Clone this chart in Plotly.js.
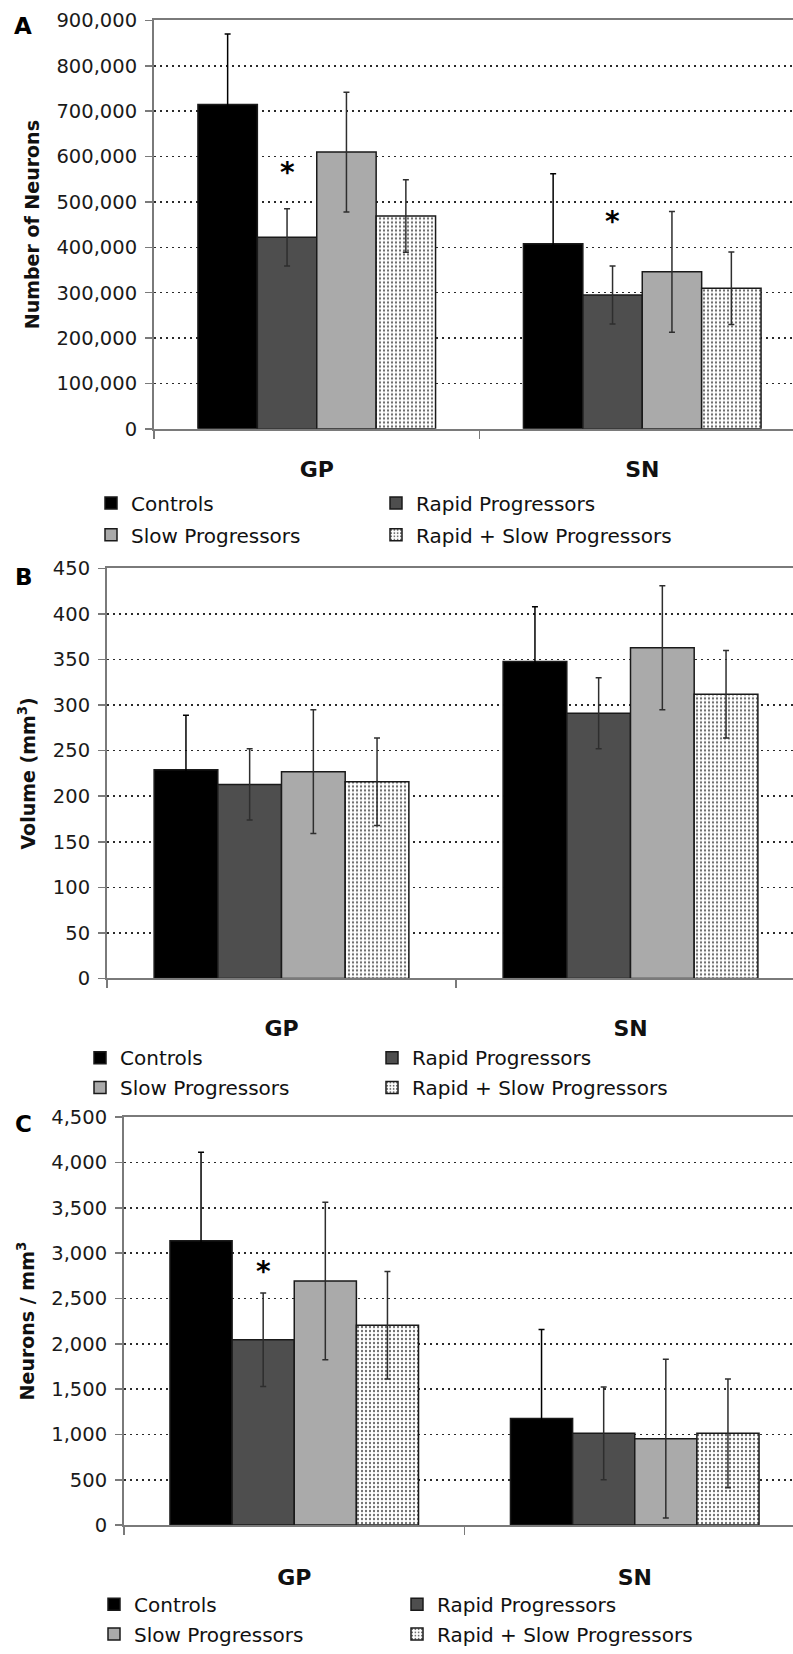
<!DOCTYPE html>
<html><head><meta charset="utf-8">
<script src="https://cdn.plot.ly/plotly-3.0.1.min.js"></script>
<style>html,body{margin:0;padding:0;overflow:hidden;background:#fff}#chart{width:805px;height:1654px}</style>
</head><body><div id="chart"></div>
<script>
const categories = ['GP', 'SN'];
const seriesNames = ['Controls', 'Rapid Progressors', 'Slow Progressors', 'Rapid + Slow Progressors'];

// Panel A: Number of Neurons
const neuronsControls = [715000, 408000];
const neuronsControlsErr = [155000, 154000];
const neuronsRapid = [422000, 295000];
const neuronsRapidErr = [63000, 64000];
const neuronsSlow = [610000, 346000];
const neuronsSlowErr = [132000, 133000];
const neuronsRapidSlow = [469000, 310000];
const neuronsRapidSlowErr = [80000, 80000];

// Panel B: Volume (mm3)
const volumeControls = [229, 348];
const volumeControlsErr = [60, 60];
const volumeRapid = [213, 291];
const volumeRapidErr = [39, 39];
const volumeSlow = [227, 363];
const volumeSlowErr = [68, 68];
const volumeRapidSlow = [216, 312];
const volumeRapidSlowErr = [48, 48];

// Panel C: Neurons / mm3
const densityControls = [3137, 1176];
const densityControlsErr = [975, 982];
const densityRapid = [2045, 1012];
const densityRapidErr = [515, 512];
const densitySlow = [2693, 953];
const densitySlowErr = [868, 875];
const densityRapidSlow = [2205, 1012];
const densityRapidSlowErr = [593, 600];

const W = 805, H = 1654;
const FONT = 'DejaVu Sans';

const seriesStyles = [
  {color: '#000000', err: '#000000'},
  {color: '#4e4e4e', err: '#2e2e2e'},
  {color: '#aaaaaa', err: '#2e2e2e'},
  {color: '#ffffff', err: '#2e2e2e', pattern: {shape: '.', fgcolor: '#666666', bgcolor: '#ffffff', size: 4, solidity: 0.25}}
];

const panels = [
  {xa: 'x', ya: 'y', legends: ['legend', 'legend2'], colWidth: 240,
   data: [[neuronsControls, neuronsControlsErr], [neuronsRapid, neuronsRapidErr], [neuronsSlow, neuronsSlowErr], [neuronsRapidSlow, neuronsRapidSlowErr]]},
  {xa: 'x2', ya: 'y2', legends: ['legend3', 'legend4'], colWidth: 247,
   data: [[volumeControls, volumeControlsErr], [volumeRapid, volumeRapidErr], [volumeSlow, volumeSlowErr], [volumeRapidSlow, volumeRapidSlowErr]]},
  {xa: 'x3', ya: 'y3', legends: ['legend5', 'legend6'], colWidth: 258,
   data: [[densityControls, densityControlsErr], [densityRapid, densityRapidErr], [densitySlow, densitySlowErr], [densityRapidSlow, densityRapidSlowErr]]}
];

const traces = [];
panels.forEach(p => {
  p.data.forEach((d, i) => {
    const st = seriesStyles[i];
    const marker = {color: st.color, line: {color: '#1a1a1a', width: 1.5}};
    if (st.pattern) marker.pattern = st.pattern;
    const tr = {
      type: 'bar', name: seriesNames[i], x: categories, y: d[0],
      xaxis: p.xa, yaxis: p.ya, legend: p.legends[i < 2 ? 0 : 1],
      marker: marker,
      error_y: {type: 'data', array: d[1], visible: true, color: st.err, thickness: 1.5, width: 3},
      hoverinfo: 'skip'
    };
    if (i % 2 === 0) tr.legendwidth = p.colWidth;
    traces.push(tr);
  });
});

function xAxis(l, yid, standoff) {
  return {
    domain: [l / W, 1], anchor: yid, type: 'category',
    showline: true, linecolor: '#7a7a7a', linewidth: 2, mirror: true,
    ticks: 'outside', tickson: 'boundaries', ticklen: 8, tickcolor: '#7a7a7a', tickwidth: 1.5,
    tickfont: {family: FONT, size: 22, color: '#111', weight: 'bold'},
    ticklabelstandoff: standoff, showgrid: false, fixedrange: true
  };
}
function yAxis(top, bottom, xid, range, dtick, title, standoff) {
  return {
    domain: [1 - bottom / H, 1 - top / H], anchor: xid, range: range, dtick: dtick, tick0: 0,
    tickformat: ',d', showgrid: true, gridcolor: '#2a2a2a', gridwidth: 1.5, griddash: '2px,4px',
    zeroline: false, showline: true, linecolor: '#7a7a7a', linewidth: 2, mirror: true,
    ticks: 'outside', ticklen: 7, tickcolor: '#7a7a7a', tickwidth: 1.5,
    tickfont: {family: FONT, size: 19.5, color: '#1a1a1a'}, ticklabelstandoff: 4,
    title: {text: title, font: {family: FONT, size: 19, color: '#111', weight: 'bold'}, standoff: standoff},
    fixedrange: true
  };
}
function legendRow(textX, y) {
  return {
    orientation: 'h', x: (textX - 40) / W, xanchor: 'left', y: 1 - y / H, yanchor: 'middle',
    bgcolor: 'rgba(0,0,0,0)', borderwidth: 0,
    font: {family: FONT, size: 20, color: '#111'}, traceorder: 'normal'
  };
}
function letter(t, x, y) {
  return {text: t, xref: 'paper', yref: 'paper', x: x / W, y: 1 - y / H, xanchor: 'center', yanchor: 'middle',
          showarrow: false, font: {family: FONT, size: 23, color: '#000', weight: 'bold'}};
}
function star(xref, yref, x, y) {
  return {text: '*', xref: xref, yref: yref, x: x, y: y, xanchor: 'center', yanchor: 'middle',
          showarrow: false, font: {family: FONT, size: 28, color: '#000', weight: 'bold'}};
}

const layout = {
  width: W, height: H, margin: {l: 0, r: 0, t: 0, b: 0}, paper_bgcolor: '#fff', plot_bgcolor: '#fff',
  barmode: 'group', bargap: 0.27, bargroupgap: 0, showlegend: true,
  xaxis: xAxis(154, 'y', 20), xaxis2: xAxis(107, 'y2', 29), xaxis3: xAxis(124, 'y3', 31),
  yaxis: yAxis(20.7, 433, 'x', [0, 900000], 100000, 'Number of Neurons', 12),
  yaxis2: yAxis(574, 988, 'x2', [0, 450], 50, 'Volume (mm<sup>3</sup>)', 12),
  yaxis3: yAxis(1128, 1540, 'x3', [0, 4500], 500, 'Neurons / mm<sup>3</sup>', 12),
  legend: legendRow(131, 508), legend2: legendRow(131, 540),
  legend3: legendRow(120, 1068), legend4: legendRow(120, 1098),
  legend5: legendRow(134, 1620), legend6: legendRow(134, 1650),
  annotations: [
    letter('A', 23, 26), letter('B', 24, 583), letter('C', 23, 1135),
    star('x', 'y', -0.09, 565000),
    star('x', 'y', 0.91, 458000),
    star('x3', 'y3', -0.09, 2800)
  ]
};

Plotly.newPlot('chart', traces, layout, {staticPlot: true, displayModeBar: false});
</script></body></html>
